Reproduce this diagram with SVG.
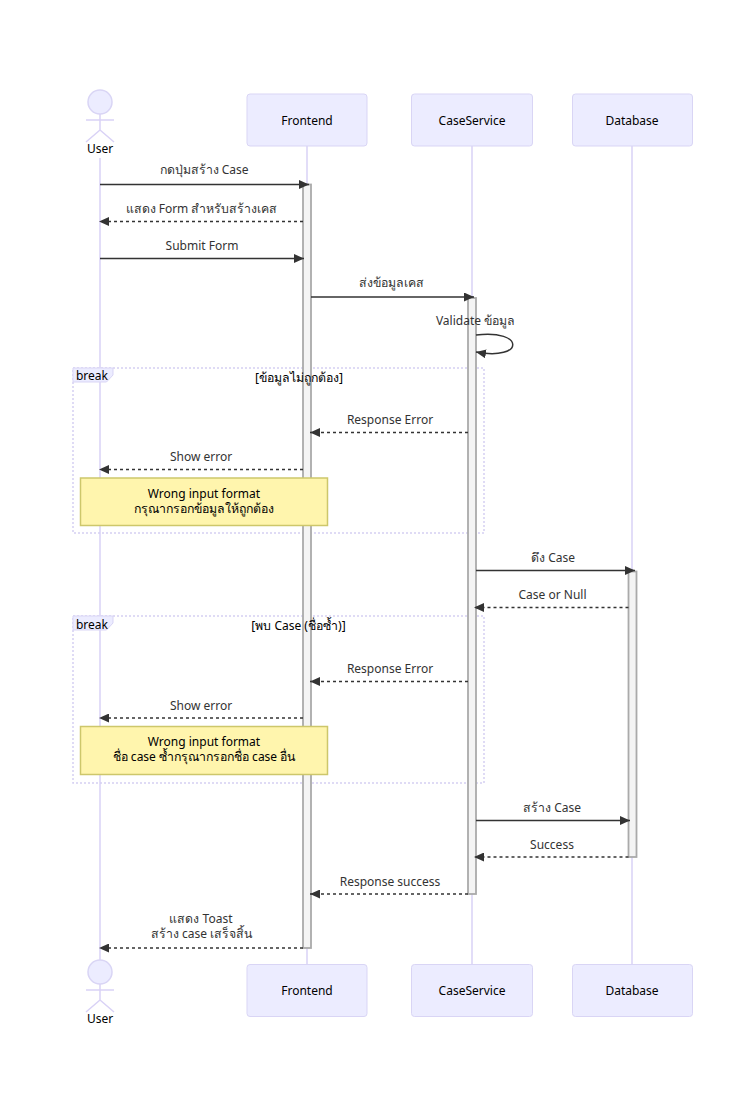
<svg xmlns="http://www.w3.org/2000/svg" width="733" height="1111" viewBox="0 0 733 1111">
<style>
text{font-family:"Noto Sans","DejaVu Sans",sans-serif;font-size:12px;text-anchor:middle}
tspan{font-size:12.300px}
.m{fill:#333}
.t{fill:#000}
.b{fill:#ECECFF;stroke:#D9D5F5;stroke-width:1}
.a{fill:#ECECFF;stroke:#D9D5F5;stroke-width:1.5}
.l{stroke:#D9D2F6;stroke-width:1.5;fill:none}
.act{fill:#f4f4f4;stroke:#aaa;stroke-width:1.800}
.s{stroke:#333;stroke-width:1.5;fill:none;marker-end:url(#ah)}
.d{stroke:#333;stroke-width:1.5;fill:none;stroke-dasharray:3 3;marker-end:url(#ah)}
.loop{fill:none;stroke:#D5D0F2;stroke-width:1.5;stroke-dasharray:2 2}
.lb{fill:#ECECFF;stroke:#D9D5F5;stroke-width:1}
.n{fill:#FFF5AD;stroke:#CDC76B;stroke-width:1.500}
</style>
<defs>
<marker id="ah" viewBox="0 0 10 9" refX="10" refY="4.500" markerUnits="userSpaceOnUse" markerWidth="10" markerHeight="9" orient="auto"><path d="M0 0L10 4.500L0 9Z" fill="#333"/></marker>
</defs>
<g id="lifelines">
<path class="l" d="M100 158V960M307 146V964M472 146V964M632 146V964"/>
</g>
<g id="loops">
<path class="loop" d="M73 368H484V533H73Z"/>
<path class="lb" d="M73 368H113V375L106.500 382H73Z"/>
<path class="loop" d="M73 616H484V783H73Z"/>
<path class="lb" d="M73 616H113V623L106.500 630H73Z"/>
</g>
<g id="activations">
<rect class="act" x="303" y="184.500" width="8" height="763.500"/>
<rect class="act" x="468" y="298" width="8" height="596"/>
<rect class="act" x="628.500" y="571.500" width="8" height="285.500"/>
</g>
<g id="connectors">
<path class="s" d="M100 184.500H309"/>
<path class="d" d="M303 221.500H99"/>
<path class="s" d="M100 258.500H304"/>
<path class="s" d="M311 297H474"/>
<path class="s" d="M476 335C525 329 525 361 476 352"/>
<path class="d" d="M468 432.500H310"/>
<path class="d" d="M303 469.500H99"/>
<path class="s" d="M476 570.500H635"/>
<path class="d" d="M628.500 607.500H474"/>
<path class="d" d="M468 681.500H310"/>
<path class="d" d="M303 718H99"/>
<path class="s" d="M476 820.500H630"/>
<path class="d" d="M628.500 857H474"/>
<path class="d" d="M468 894H310"/>
<path class="d" d="M303 948H99"/>
</g>
<g id="user-top">
<circle class="a" cx="100" cy="102" r="12"/>
<path class="l" d="M100 114V130M86 120H114M100 130L86 142M100 130L114 142"/>
<text class="t" x="100" y="153">User</text>
</g>
<g id="frontend-top"><rect class="b" x="247" y="94" width="120" height="52" rx="3"/><text class="t" x="307" y="125">Frontend</text></g>
<g id="caseservice-top"><rect class="b" x="411.500" y="94" width="121" height="52" rx="3"/><text class="t" x="472" y="125">CaseService</text></g>
<g id="database-top"><rect class="b" x="572.500" y="94" width="120" height="52" rx="3"/><text class="t" x="632" y="125">Database</text></g>
<g id="user-bottom">
<circle class="a" cx="100" cy="972" r="12"/>
<path class="l" d="M100 984V1000M86 990H114M100 1000L86 1012M100 1000L114 1012"/>
<text class="t" x="100" y="1023">User</text>
</g>
<g id="frontend-bottom"><rect class="b" x="247" y="964.500" width="120" height="52" rx="3"/><text class="t" x="307" y="995">Frontend</text></g>
<g id="caseservice-bottom"><rect class="b" x="411.500" y="964.500" width="121" height="52" rx="3"/><text class="t" x="472" y="995">CaseService</text></g>
<g id="database-bottom"><rect class="b" x="572.500" y="964.500" width="120" height="52" rx="3"/><text class="t" x="632" y="995">Database</text></g>
<g id="notes">
<rect class="n" x="80.500" y="478" width="247" height="47.500"/>
<text class="t" x="204" y="498">Wrong input format</text>
<text class="t" x="203.500" y="513"><tspan>กรุณากรอกข้อมูลให้ถูกต้อง</tspan></text>
<rect class="n" x="80.500" y="726.500" width="247" height="48"/>
<text class="t" x="204" y="746">Wrong input format</text>
<text class="t" x="204" y="761"><tspan>ชื่อ</tspan> case <tspan>ซ้ำกรุณากรอกชื่อ</tspan> case <tspan>อื่น</tspan></text>
</g>
<g id="labels">
<text class="t" x="92" y="380">break</text>
<text class="t" x="299" y="382"><tspan>[ข้อมูลไม่ถูกต้อง]</tspan></text>
<text class="t" x="92" y="629">break</text>
<text class="t" x="298.500" y="630"><tspan>[พบ</tspan> Case <tspan>(ชื่อซ้ำ)]</tspan></text>
<text class="m" x="204" y="174"><tspan>กดปุ่มสร้าง</tspan> Case</text>
<text class="m" x="201.500" y="213"><tspan>แสดง</tspan> Form <tspan>สำหรับสร้างเคส</tspan></text>
<text class="m" x="202" y="250">Submit Form</text>
<text class="m" x="391" y="287"><tspan>ส่งข้อมูลเคส</tspan></text>
<text class="m" x="475.500" y="325">Validate <tspan>ข้อมูล</tspan></text>
<text class="m" x="390" y="424">Response Error</text>
<text class="m" x="201" y="461">Show error</text>
<text class="m" x="553" y="562"><tspan>ดึง</tspan> Case</text>
<text class="m" x="552.500" y="599">Case or Null</text>
<text class="m" x="390" y="673">Response Error</text>
<text class="m" x="201" y="710">Show error</text>
<text class="m" x="552" y="812"><tspan>สร้าง</tspan> Case</text>
<text class="m" x="552" y="849">Success</text>
<text class="m" x="390" y="886">Response success</text>
<text class="m" x="201" y="923"><tspan>แสดง</tspan> Toast</text>
<text class="m" x="201.500" y="938"><tspan>สร้าง</tspan> case <tspan>เสร็จสิ้น</tspan></text>
</g>
</svg>
